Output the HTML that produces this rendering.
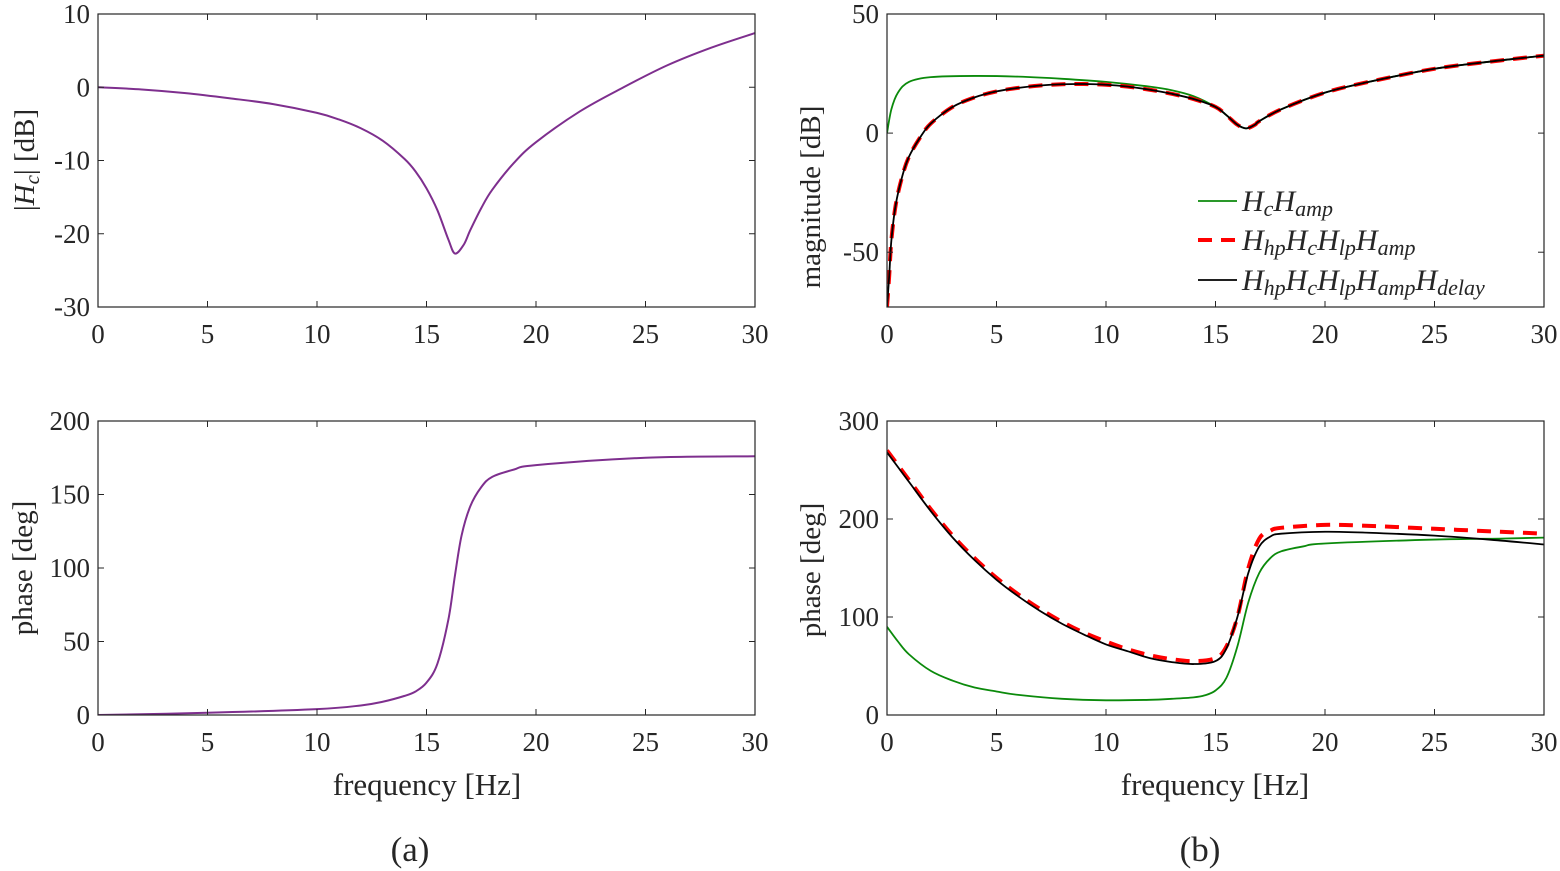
<!DOCTYPE html>
<html><head><meta charset="utf-8">
<style>
html,body{margin:0;padding:0;background:#fff;}
svg{display:block;font-family:"Liberation Serif",serif;}
text{fill:#262626;}
</style></head>
<body>
<svg id="chart" width="1560" height="871" viewBox="0 0 1560 871" xmlns="http://www.w3.org/2000/svg"></svg>
<script>
// ---- data ----
const fA = [0,2,4,6,8,10,11,12,13,14,14.5,15,15.5,16,16.3,16.7,17,17.5,18,19,20,22,24,26,28,30];
const magA = [0,-0.3,-0.8,-1.5,-2.3,-3.5,-4.4,-5.6,-7.3,-9.8,-11.5,-13.8,-16.8,-20.8,-22.7,-21.5,-19.5,-16.5,-14,-10.3,-7.5,-3.3,0,3,5.4,7.4];
const fPA = [0,5,10,12,13,14,14.5,15,15.5,16,16.3,16.6,17,17.5,18,19,20,25,30];
const phA = [0,1.5,4,6.5,9,13,16,22,35,65,95,122,142,155,162,167,170,175,176];

const fG = [0,0.2,0.5,1,2,4,6,8,10,12,13,14,15,15.5,16,16.4,16.8,17,18,20,22,25,28,30];
const magG = [0,10,17,21.5,23.5,24,23.7,22.8,21.5,19.5,18,15.5,11,7.5,3.5,2,3.5,5,10,17,21.5,27,30.5,32.5];
const fR = [0,0.1,0.2,0.4,0.7,1,1.5,2,3,4,5,6,7,8,9,10,11,12,13,14,15,15.5,16,16.4,16.8,17,18,20,22,25,28,30];
const magR = [-73,-60,-45,-30,-18,-10,-2,4,11,15,17.5,19,20,20.5,20.6,20.3,19.5,18.2,16.5,14.3,11,7.5,3.5,2,3.5,5,10,17,21.5,27,30.5,32.5];
const magK = magR.slice();

const fPB = [0,1,2,3,4,5,6,7,8,9,10,11,12,13,14,15,15.5,16,16.5,17,17.5,18,20,22,25,28,30];
const phR = [270,240,210,183,160,140,123,108,95,84,75,67,61,57,55,58,70,100,150,180,188,191,194,193,190,187,185];
const phK = [268,238,208,181,158,138,121,106,93,82,72,65,58,54,52,55,68,100,145,172,182,185,187,186,183,178,174];
const fPG = [0,0.5,1,2,3,4,5,6,8,10,12,13,14,14.5,15,15.5,16,16.5,17,17.5,18,19,20,25,28,30];
const phG = [90,75,62,45,35,28,24,20.5,16.5,15,15.5,16.5,18,20,25,38,70,115,145,160,167,172,175,179,180,181];

const xTicks = [0,5,10,15,20,25,30];
const yTicksA1 = [10,0,-10,-20,-30];
const yTicksA2 = [200,150,100,50,0];
const yTicksB1 = [50,0,-50];
const yTicksB2 = [300,200,100,0];

const NS="http://www.w3.org/2000/svg";
const svg=document.getElementById('chart');
function el(tag,attrs,parent){const e=document.createElementNS(NS,tag);for(const k in attrs)e.setAttribute(k,attrs[k]);(parent||svg).appendChild(e);return e;}
function path(pts){
  let d=`M${pts[0][0]},${pts[0][1]}`;
  for(let i=0;i<pts.length-1;i++){
    const p0=pts[Math.max(0,i-1)],p1=pts[i],p2=pts[i+1],p3=pts[Math.min(pts.length-1,i+2)];
    const c1=[p1[0]+(p2[0]-p0[0])/6,p1[1]+(p2[1]-p0[1])/6];
    const c2=[p2[0]-(p3[0]-p1[0])/6,p2[1]-(p3[1]-p1[1])/6];
    d+=` C${c1[0]},${c1[1]} ${c2[0]},${c2[1]} ${p2[0]},${p2[1]}`;
  }
  return d;
}
function axes(name,x0,x1,y0,y1,ymin,ymax,yTicks){
  const g=el('g',{});
  
  
  const sx=v=>x0+(v-0)/30*(x1-x0);
  const sy=v=>y1-(v-ymin)/(ymax-ymin)*(y1-y0);
  el('rect',{x:x0,y:y0,width:x1-x0,height:y1-y0,fill:'#fff',stroke:'none'},g);
  const clip='clip-'+name;
  const cp=el('clipPath',{id:clip},g);el('rect',{x:x0,y:y0,width:x1-x0,height:y1-y0},cp);
  const plot=el('g',{'clip-path':`url(#${clip})`},g);
  xTicks.forEach(t=>{const x=sx(t);
    el('line',{x1:x,y1:y1,x2:x,y2:y1-6,stroke:'#262626','stroke-width':1},g);
    el('line',{x1:x,y1:y0,x2:x,y2:y0+6,stroke:'#262626','stroke-width':1},g);
    const tx=el('text',{x:x,y:y1+36,'font-size':27,'text-anchor':'middle'},g);tx.textContent=t;
    
    
  });
  yTicks.forEach(t=>{const y=sy(t);
    el('line',{x1:x0,y1:y,x2:x0+6,y2:y,stroke:'#262626','stroke-width':1},g);
    el('line',{x1:x1,y1:y,x2:x1-6,y2:y,stroke:'#262626','stroke-width':1},g);
    const tx=el('text',{x:x0-8,y:y+9,'font-size':27,'text-anchor':'end'},g);tx.textContent=t;
    
    
  });
  el('rect',{x:x0,y:y0,width:x1-x0,height:y1-y0,fill:'none',stroke:'#262626','stroke-width':1.2},g);
  return {sx,sy,plot};
}
function series(ax,xs,ys,color,w,dash,name){
  const p=el('path',{d:path(xs.map((x,i)=>[ax.sx(x),ax.sy(ys[i])])),fill:'none',stroke:color,'stroke-width':w},ax.plot);
  if(dash)p.setAttribute('stroke-dasharray',dash);
  
  
}
const a1=axes('plot-a-magnitude',98,755,14,307,-30,10,yTicksA1);
series(a1,fA,magA,'#7E2F8E',2,null,'hc-magnitude-line');
const a2=axes('plot-a-phase',98,755,421,715,0,200,yTicksA2);
series(a2,fPA,phA,'#7E2F8E',2,null,'hc-phase-line');
const b1=axes('plot-b-magnitude',887,1544,14,307,-73,50,yTicksB1);
series(b1,fG,magG,'#0b8a0b',1.8,null,'hchamp-magnitude-line');
series(b1,fR,magR,'#ff0000',4,'14,9','hhp-hc-hlp-hamp-magnitude-line');
series(b1,fR,magK,'#000',1.8,null,'full-chain-magnitude-line');
const b2=axes('plot-b-phase',887,1544,421,715,0,300,yTicksB2);
series(b2,fPG,phG,'#0b8a0b',1.8,null,'hchamp-phase-line');
series(b2,fPB,phR,'#ff0000',4,'14,9','hhp-hc-hlp-hamp-phase-line');
series(b2,fPB,phK,'#000',1.8,null,'full-chain-phase-line');
</script>
<script>
const s=document.getElementById('chart');
s.insertAdjacentHTML('beforeend',`
<g font-style="italic" font-size="30">
 <line x1="1198" y1="201" x2="1237" y2="201" stroke="#0b8a0b" stroke-width="1.8"/>
 <text x="1242" y="211">H<tspan font-size="22" dy="5">c</tspan><tspan dy="-5">H</tspan><tspan font-size="22" dy="5">amp</tspan></text>
 <line x1="1198" y1="240" x2="1237" y2="240" stroke="#ff0000" stroke-width="4" stroke-dasharray="14,9"/>
 <text x="1242" y="250">H<tspan font-size="22" dy="5">hp</tspan><tspan dy="-5">H</tspan><tspan font-size="22" dy="5">c</tspan><tspan dy="-5">H</tspan><tspan font-size="22" dy="5">lp</tspan><tspan dy="-5">H</tspan><tspan font-size="22" dy="5">amp</tspan></text>
 <line x1="1198" y1="280" x2="1237" y2="280" stroke="#000" stroke-width="1.8"/>
 <text x="1242" y="290">H<tspan font-size="22" dy="5">hp</tspan><tspan dy="-5">H</tspan><tspan font-size="22" dy="5">c</tspan><tspan dy="-5">H</tspan><tspan font-size="22" dy="5">lp</tspan><tspan dy="-5">H</tspan><tspan font-size="22" dy="5">amp</tspan><tspan dy="-5">H</tspan><tspan font-size="22" dy="5">delay</tspan></text>
</g>
<text font-size="29" text-anchor="middle" transform="translate(34,160) rotate(-90)">|<tspan font-style="italic">H</tspan><tspan font-style="italic" font-size="21" dy="5">c</tspan><tspan dy="-5">| [dB]</tspan></text>
<text font-size="29" text-anchor="middle" transform="translate(32,568) rotate(-90)">phase [deg]</text>
<text font-size="29" text-anchor="middle" transform="translate(820,197) rotate(-90)">magnitude [dB]</text>
<text font-size="29" text-anchor="middle" transform="translate(820,570) rotate(-90)">phase [deg]</text>
<text font-size="31" text-anchor="middle" x="427" y="795">frequency [Hz]</text>
<text font-size="31" text-anchor="middle" x="1215" y="795">frequency [Hz]</text>
<text font-size="35" text-anchor="middle" x="410" y="861">(a)</text>
<text font-size="35" text-anchor="middle" x="1200" y="861">(b)</text>
`);
</script>
</body></html>
